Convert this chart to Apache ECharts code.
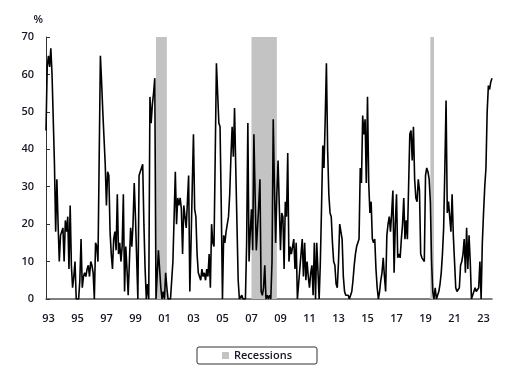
<!DOCTYPE html>
<html>
<head>
<meta charset="utf-8">
<script src="https://cdn.jsdelivr.net/npm/echarts@6/dist/echarts.min.js"></script>
<style>
  html, body { margin: 0; padding: 0; background: #fff; }
  #chart { width: 510px; height: 377px; }
</style>
</head>
<body>
<div id="chart"></div>
<script>
// monthly series, first point is Oct 1993
var startYear = 1993, startMonth = 10;

var values1990s = [45, 62, 65, 62, 67, 60, 48, 36, 18, 32,
    20, 10, 17, 18, 19, 10, 21, 18, 22, 8,
    25, 9, 3, 6, 10, 0, 0, 0, 5, 16,
    3, 6, 7, 6, 8, 9, 6, 10, 9, 7,
    0, 15, 14, 10, 10, 65, 58, 50, 43, 36,
    25, 34, 33, 18, 12, 8, 16, 18, 13, 28,
    12, 15, 10, 14, 28, 2, 14, 8, 1, 10,
    19, 14, 20, 31, 22];

var values2000s = [22, 0, 33, 34, 35,
    36, 20, 8, 0, 4, 0, 54, 47, 52, 55,
    59, 0, 0, 13, 8, 3, 0, 2, 0, 7,
    3, 0, 0, 0, 0, 10, 22, 34, 20, 27,
    25, 27, 24, 12, 25, 22, 19, 26, 33, 2,
    15, 30, 44, 24, 22, 12, 7, 6, 5, 8,
    6, 7, 5, 8, 6, 12, 3, 20, 15, 14,
    38, 63, 55, 47, 46, 25, 0, 17, 15, 18,
    20, 22, 28, 38, 46, 38, 51, 35, 20, 5,
    0, 0, 1, 0, 0, 0, 15, 47, 10, 18,
    24, 13, 44, 28, 13, 19, 25, 32, 2, 1,
    3, 9, 0, 1, 0, 1, 0, 10, 48, 30,
    15, 28, 37, 25, 13];

var values2010s = [23, 22, 8, 26, 22,
    39, 10, 14, 12, 12, 16, 8, 15, 0, 4,
    8, 12, 16, 6, 15, 5, 10, 6, 3, 7,
    9, 1, 15, 0, 15, 15, 0, 10, 25, 41,
    35, 48, 63, 40, 28, 23, 22, 15, 10, 9,
    4, 3, 10, 20, 20, 16, 6, 2, 1, 1,
    1, 0, 0, 2, 5, 9, 12, 14, 15, 16,
    35, 31, 49, 44, 48, 31, 54, 31, 23, 26,
    16, 15, 16, 8, 3, 0, 2, 5, 7, 11,
    6, 2, 17, 20, 22, 18, 23, 29, 7, 20,
    28, 11, 12, 11, 16, 20, 27, 16, 21, 16,
    30, 44, 45, 37, 46, 32, 27, 26, 32, 29,
    12, 11, 11, 10, 33];

var values2020s = [35, 34, 32, 26, 10,
    2, 0, 3, 0, 1, 2, 4, 7, 12, 19,
    35, 53, 23, 26, 22, 18, 28, 17, 10, 3,
    2, 2, 3, 9, 10, 12, 16, 7, 19, 8,
    17, 10, 0, 1, 2, 3, 2, 2, 3, 10,
    0, 15, 23, 30, 35, 50, 57, 56, 58, 59];

var recessionStarts = ['2001-05', '2007-12', '2020-04'];
var recessionEnds = ['2002-02', '2009-09', '2020-07'];

var values = values1990s.concat(values2000s, values2010s, values2020s);

var months = values.map(function(v, i) {
    var m = startMonth - 1 + i;
    var y = startYear + Math.floor(m / 12);
    var mm = (m % 12) + 1;
    return y + '-' + (mm < 10 ? '0' + mm : '' + mm);
});

var recessionAreas = recessionStarts.map(function(s, i) {
    return [{ xAxis: s }, { xAxis: recessionEnds[i] }];
});

var labelFont = {
    color: '#161626',
    fontSize: 11,
    fontWeight: 600,
    fontFamily: 'Open Sans'
};

var myChart = echarts.init(document.getElementById('chart'));

var option = {
    backgroundColor: '#fff',
    animation: false,
    grid: {
        left: 46,
        right: 18,
        top: 37,
        bottom: 78
    },
    legend: {
        data: ['Recessions'],
        left: 197,
        top: 347,
        icon: 'rect',
        itemWidth: 7,
        itemHeight: 7,
        padding: [3, 25, 3, 25],
        borderColor: '#333',
        borderWidth: 1,
        borderRadius: 2,
        textStyle: labelFont
    },
    xAxis: {
        type: 'category',
        boundaryGap: false,
        data: months,
        axisLine: { lineStyle: { color: '#555', width: 1.5 } },
        axisTick: { show: false },
        splitLine: { show: false },
        axisLabel: Object.assign({
            margin: 14,
            interval: function(idx, val) {
                return val.slice(5) === '12' && (+val.slice(0, 4)) % 2 === 1;
            },
            formatter: function(val) {
                return val.slice(2, 4);
            }
        }, labelFont)
    },
    yAxis: {
        type: 'value',
        min: 0,
        max: 70,
        interval: 10,
        name: '%',
        nameLocation: 'end',
        nameGap: 12,
        nameTextStyle: Object.assign({ align: 'right', padding: [0, 3, 0, 0] }, labelFont),
        axisLine: { show: true, lineStyle: { color: '#333', width: 1 } },
        axisTick: { show: true, inside: true, length: 4, lineStyle: { color: '#333' } },
        splitLine: { show: false },
        axisLabel: Object.assign({ margin: 12 }, labelFont)
    },
    series: [
        {
            name: 'Recessions',
            type: 'line',
            data: [],
            itemStyle: { color: '#c3c3c3' },
            lineStyle: { color: '#c3c3c3' },
            silent: true,
            markArea: {
                silent: true,
                itemStyle: { color: '#c3c3c3' },
                data: recessionAreas
            }
        },
        {
            name: 'Probability',
            type: 'line',
            data: values,
            symbol: 'none',
            z: 3,
            lineStyle: { color: '#000', width: 1.6 },
            itemStyle: { color: '#000' }
        }
    ]
};

myChart.setOption(option);
</script>
</body>
</html>
